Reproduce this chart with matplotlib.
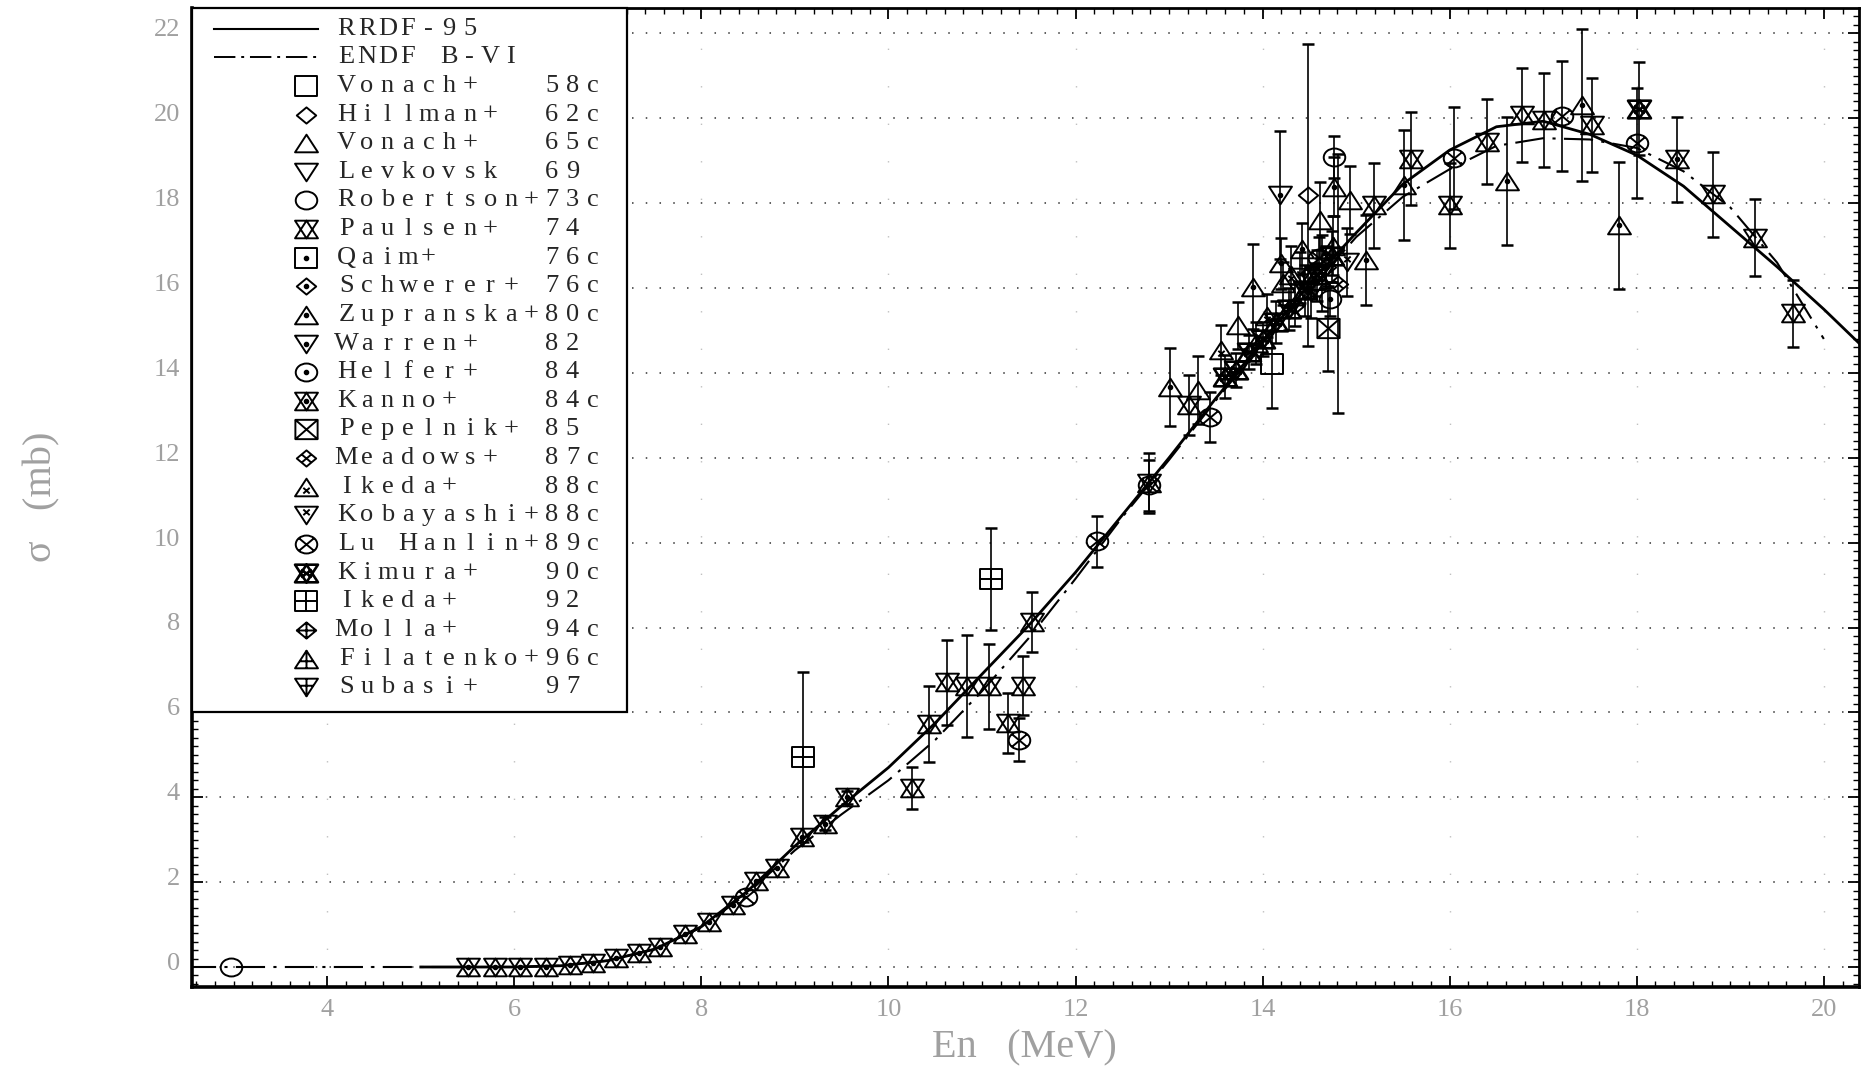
import numpy as np
import matplotlib
matplotlib.use('Agg')
import matplotlib.pyplot as plt
from matplotlib.path import Path
from matplotlib.patches import Rectangle
from matplotlib.ticker import MultipleLocator
from matplotlib.transforms import ScaledTranslation

# evaluated curves
rrdf_e = [5.0, 5.5, 6.0, 6.5, 7.0, 7.5, 8.0, 8.5, 9.0, 9.5, 10.0, 10.5, 11.0, 11.5, 12.0, 12.5,
          13.0, 13.5, 14.0, 14.5, 15.0, 15.5, 16.0, 16.5, 17.0, 17.5, 18.0, 18.5, 19.0, 19.5, 20.0, 20.4]
rrdf_s = [0.0, 0.0, 0.0, 0.03, 0.15, 0.42, 0.95, 1.8, 2.85, 3.8, 4.7, 5.75, 6.9, 8.05, 9.3, 10.65,
          12.0, 13.4, 14.75, 16.1, 17.3, 18.45, 19.25, 19.8, 19.93, 19.62, 19.13, 18.4, 17.45, 16.5, 15.5, 14.65]

endf_e = [2.5, 5.0, 5.5, 6.0, 6.5, 7.0, 7.5, 8.0, 8.5, 9.0, 9.5, 10.0, 10.5, 11.0, 11.5, 12.0,
          12.5, 13.0, 13.5, 14.0, 14.5, 15.0, 15.5, 16.0, 16.5, 17.0, 17.5, 18.0, 18.5, 19.0, 19.5, 20.0]
endf_s = [0.0, 0.0, 0.0, 0.0, 0.03, 0.15, 0.42, 0.93, 1.75, 2.75, 3.6, 4.4, 5.35, 6.5, 7.75, 9.15,
          10.6, 11.95, 13.35, 14.7, 15.95, 17.2, 18.15, 18.8, 19.35, 19.53, 19.5, 19.3, 18.75, 17.9, 16.6, 14.8]

# experimental data: En (MeV), sigma (mb), error (mb)
vonach58_e = [14.10]
vonach58_s = [14.22]
vonach58_d = [1.05]

hillman62_e = [14.49]
hillman62_s = [18.19]
hillman62_d = [3.55]

vonach65_e = [13.31, 13.74, 14.22, 14.61, 14.93]
vonach65_s = [13.59, 15.12, 16.11, 17.6, 18.07]
vonach65_d = [0.8, 0.55, 0.5, 0.9, 0.8]

levkovsk69_e = [14.64]
levkovsk69_s = [16.35]
levkovsk69_d = [0.9]

robertson73_e = [2.97, 14.76]
robertson73_s = [0.0, 19.09]
robertson73_d = [0.0, 0.5]

paulsen74_e = [10.25, 10.43, 10.63, 10.84, 11.07, 11.28, 11.44, 11.53, 13.21, 15.19,
               15.59, 16.00, 16.40, 16.77, 17.01, 17.52, 18.82, 19.26, 19.67]
paulsen74_s = [4.22, 5.73, 6.71, 6.62, 6.62, 5.75, 6.63, 8.13, 13.24, 17.95,
               19.05, 17.95, 19.45, 20.08, 19.96, 19.84, 18.21, 17.19, 15.40]
paulsen74_d = [0.5, 0.9, 1.0, 1.2, 1.0, 0.7, 0.7, 0.7, 0.7, 1.0,
               1.1, 1.0, 1.0, 1.1, 1.1, 1.1, 1.0, 0.9, 0.8]

qaim76_e = [14.56]
qaim76_s = [16.2]
qaim76_d = [0.4]

schwerer76_e = [14.68]
schwerer76_s = [16.5]
schwerer76_d = [0.5]

zupranska80_e = [13.01, 13.90, 14.20, 14.42, 14.76, 15.11, 15.51, 16.61, 17.41, 17.81]
zupranska80_s = [13.67, 16.03, 16.58, 16.93, 18.39, 16.66, 18.43, 18.52, 20.31, 17.48]
zupranska80_d = [0.92, 1.0, 0.6, 0.6, 0.7, 1.06, 1.3, 1.5, 1.8, 1.5]

warren82_e = [14.19]
warren82_s = [18.19]
warren82_d = [1.5]

helfer84_e = [14.72]
helfer84_s = [15.75]
helfer84_d = [0.4]

kanno84_e = [5.50, 5.79, 6.06, 6.34, 6.60, 6.84, 7.09, 7.33, 7.56, 7.82, 8.08, 8.34,
             8.58, 8.81, 9.08, 9.32, 9.56, 12.79, 18.43]
kanno84_s = [0.0, 0.0, 0.0, 0.01, 0.04, 0.10, 0.21, 0.32, 0.46, 0.77, 1.05, 1.47,
             2.03, 2.34, 3.06, 3.38, 4.0, 11.41, 19.03]
kanno84_d = [0, 0, 0, 0, 0, 0, 0, 0, 0, 0, 0, 0,
             0, 0, 0, 0.15, 0.15, 0.7, 1.0]

pepelnik85_e = [14.70]
pepelnik85_s = [15.05]
pepelnik85_d = [1.0]

meadows87_e = [14.81]
meadows87_s = [16.1]
meadows87_d = [3.05]

ikeda88_e = [13.56, 14.05, 14.30]
ikeda88_s = [14.54, 15.35, 16.3]
ikeda88_d = [0.6, 0.5, 0.7]

kobayashi88_e = [14.40, 14.90]
kobayashi88_s = [16.25, 16.62]
kobayashi88_d = [0.6, 0.8]

luhanlin89_e = [8.48, 11.40, 12.23, 12.79, 13.44, 14.60, 16.05, 17.20, 18.00]
luhanlin89_s = [1.64, 5.36, 10.03, 11.35, 12.96, 16.7, 19.06, 20.05, 19.41]
luhanlin89_d = [0.0, 0.5, 0.6, 0.6, 0.6, 0.5, 1.2, 1.3, 1.3]

kimura90_e = [13.60, 13.72, 13.85, 14.00, 14.14, 14.28, 14.45, 14.58, 14.74, 18.02]
kimura90_s = [13.91, 14.07, 14.5, 14.8, 15.2, 15.5, 15.95, 16.3, 16.75, 20.23]
kimura90_d = [0.5, 0.4, 0.4, 0.4, 0.5, 0.5, 0.6, 0.6, 0.6, 1.1]

ikeda92_e = [9.09, 11.10]
ikeda92_s = [4.94, 9.14]
ikeda92_d = [2.0, 1.2]

molla94_e = [14.35]
molla94_s = [15.6]
molla94_d = [0.5]

filatenko96_e = [13.93, 14.75]
filatenko96_s = [14.7, 17.0]
filatenko96_d = [0.5, 0.7]

subasi97_e = [14.52]
subasi97_s = [15.9]
subasi97_d = [0.6]

experiments = [
    ('Vonach+   58c', vonach58_e, vonach58_s, vonach58_d, 's', None),
    ('Hillman+  62c', hillman62_e, hillman62_s, hillman62_d, 'D', None),
    ('Vonach+   65c', vonach65_e, vonach65_s, vonach65_d, '^', None),
    ('Levkovsk  69', levkovsk69_e, levkovsk69_s, levkovsk69_d, 'v', None),
    ('Robertson+73c', robertson73_e, robertson73_s, robertson73_d, 'o', None),
    ('Paulsen+  74', paulsen74_e, paulsen74_s, paulsen74_d, 'hg', None),
    ('Qaim+     76c', qaim76_e, qaim76_s, qaim76_d, 's', 'dot'),
    ('Schwerer+ 76c', schwerer76_e, schwerer76_s, schwerer76_d, 'D', 'dot'),
    ('Zupranska+80c', zupranska80_e, zupranska80_s, zupranska80_d, '^', 'dot'),
    ('Warren+   82', warren82_e, warren82_s, warren82_d, 'v', 'dot'),
    ('Helfer+   84', helfer84_e, helfer84_s, helfer84_d, 'o', 'dot'),
    ('Kanno+    84c', kanno84_e, kanno84_s, kanno84_d, 'hg', 'dot'),
    ('Pepelnik+ 85', pepelnik85_e, pepelnik85_s, pepelnik85_d, 's', 'x'),
    ('Meadows+  87c', meadows87_e, meadows87_s, meadows87_d, 'D', 'x'),
    ('Ikeda+    88c', ikeda88_e, ikeda88_s, ikeda88_d, '^', 'x'),
    ('Kobayashi+88c', kobayashi88_e, kobayashi88_s, kobayashi88_d, 'v', 'x'),
    ('Lu Hanlin+89c', luhanlin89_e, luhanlin89_s, luhanlin89_d, 'o', 'x'),
    ('Kimura+   90c', kimura90_e, kimura90_s, kimura90_d, 'hg', 'x'),
    ('Ikeda+    92', ikeda92_e, ikeda92_s, ikeda92_d, 's', '+'),
    ('Molla+    94c', molla94_e, molla94_s, molla94_d, 'D', '+'),
    ('Filatenko+96c', filatenko96_e, filatenko96_s, filatenko96_d, '^', '+'),
    ('Subasi+   97', subasi97_e, subasi97_s, subasi97_d, 'v', '+'),
]

SIZE = {'s': 16, 'D': 14, '^': 16.5, 'v': 16.5, 'hg': 16.5, 'o': 15.5}


def make_symbol(shape, inner):
    # build the open symbol (plus inner strokes) as one path, a bit wider than tall
    verts, codes = [], []

    def poly(pts):
        verts.extend(pts + [pts[0]])
        codes.extend([Path.MOVETO] + [Path.LINETO] * (len(pts) - 1) + [Path.CLOSEPOLY])

    def seg(p, q):
        verts.extend([p, q])
        codes.extend([Path.MOVETO, Path.LINETO])

    w, h = 0.65, 0.5
    if shape == 's':
        w = 0.575
        poly([(-w, -h), (w, -h), (w, h), (-w, h)])
    elif shape == 'D':
        w = 0.6
        poly([(0, h), (w, 0), (0, -h), (-w, 0)])
    elif shape == 'o':
        w = 0.6
        c = Path.unit_circle()
        verts.extend([(x * w, y * h) for x, y in c.vertices])
        codes.extend(list(c.codes))
    if shape in ('^', 'hg'):
        poly([(0, h), (w, -h), (-w, -h)])
    if shape in ('v', 'hg'):
        poly([(0, -h), (w, h), (-w, h)])

    if inner == 'x':
        cx, cy, a, b = 0, 0, 0.3, 0.22
        if shape == 's':
            a, b = w, h
        elif shape == 'o':
            a, b = 0.707 * w, 0.707 * h
        elif shape == 'D':
            a, b = w / 2, h / 2
        elif shape == '^':
            cy, a, b = -0.18, 0.18, 0.16
        elif shape == 'v':
            cy, a, b = 0.18, 0.18, 0.16
        seg((cx - a, cy - b), (cx + a, cy + b))
        seg((cx - a, cy + b), (cx + a, cy - b))
    elif inner == '+':
        if shape in ('s', 'D'):
            seg((-w, 0), (w, 0))
            seg((0, -h), (0, h))
        elif shape == '^':
            yc = -0.1
            half = w * (h - yc) / (2 * h)
            seg((0, h), (0, -h))
            seg((-half, yc), (half, yc))
        elif shape == 'v':
            yc = 0.1
            half = w * (h + yc) / (2 * h)
            seg((0, -h), (0, h))
            seg((-half, yc), (half, yc))
    return Path(np.array(verts, dtype=float), codes)


def draw_symbol(ax, x, y, shape, inner, zorder=4, **kw):
    mew = 1.9 if (shape == 'hg' and inner == 'x') else 1.4
    ax.plot(x, y, linestyle='none', marker=make_symbol(shape, inner), ms=SIZE[shape],
            mfc='none', mec='k', mew=mew, zorder=zorder, **kw)
    if inner == 'dot':
        ax.plot(x, y, linestyle='none', marker='o', ms=3.0, color='k', zorder=zorder, **kw)


plt.rcParams['font.family'] = ['Liberation Serif', 'DejaVu Serif']

fig = plt.figure(figsize=(18.63, 10.71), dpi=100)
ax = fig.add_axes([0.1033, 0.0788, 0.8948, 0.9134])

ax.plot(rrdf_e, rrdf_s, color='k', lw=2.0, zorder=3)
ax.plot(endf_e, endf_s, color='k', lw=1.5, linestyle=(0, (14, 4, 1.5, 4)), zorder=3)

for label, e, s, d, shape, inner in experiments:
    e, s, d = np.array(e), np.array(s), np.array(d)
    m = d > 0
    if m.any():
        ax.errorbar(e[m], s[m], yerr=d[m], fmt='none', ecolor='k', elinewidth=1.2,
                    capsize=4.5, capthick=1.8, zorder=2)
    draw_symbol(ax, e, s, shape, inner)

ax.set_xlim(2.559, 20.381)
ax.set_ylim(-0.462, 22.59)
ax.xaxis.set_major_locator(MultipleLocator(2))
ax.yaxis.set_major_locator(MultipleLocator(2))
ax.xaxis.set_minor_locator(MultipleLocator(0.2))
ax.yaxis.set_minor_locator(MultipleLocator(0.2))
ax.tick_params(which='major', direction='in', length=8, width=1.3, top=True, right=True,
               labelsize=19, labelcolor='#a0a0a0', pad=9)
ax.tick_params(which='minor', direction='in', length=4, width=1.0, top=True, right=True)
for lbl in ax.get_yticklabels():
    lbl.set_transform(lbl.get_transform() + ScaledTranslation(0, 4 / 72, fig.dpi_scale_trans))

ax.set_axisbelow(True)
ax.grid(axis='y', which='major', color='#333333', lw=1.1, linestyle=(0, (1, 8)))
ax.grid(axis='x', which='major', color='#c0c0c0', lw=1.0, linestyle=(0, (1, 26)))
for side in ['left', 'bottom']:
    ax.spines[side].set_linewidth(2.6)
for side in ['top', 'right']:
    ax.spines[side].set_linewidth(2.0)

fig.text(0.5497, 0.0211, 'En   (MeV)', ha='center', va='center', fontsize=29, color='#a0a0a0')
fig.text(0.0223, 0.536, 'σ   (mb)', ha='center', va='center', rotation=90, fontsize=29,
         color='#a0a0a0')

# legend box drawn by hand to keep the fixed-pitch look of the original
ax.add_patch(Rectangle((0, 0.2807), 0.2609, 0.7193, transform=ax.transAxes, facecolor='white',
                       edgecolor='k', lw=1.6, zorder=8, clip_on=False))
y0, dy = 0.9793, 0.02927
pitch = 0.01233
x_txt = 0.0923
rows = [('RRDF-95', 'line', None), ('ENDF B-VI', 'dash', None)] + \
       [(lab, shp, inn) for lab, _, _, _, shp, inn in experiments]
for i, (label, shape, inner) in enumerate(rows):
    y = y0 - i * dy
    if shape == 'line':
        ax.plot([0.0128, 0.0756], [y, y], color='k', lw=1.5, transform=ax.transAxes,
                zorder=9, clip_on=False)
    elif shape == 'dash':
        ax.plot([0.0128, 0.0756], [y, y], color='k', lw=1.4, linestyle=(0, (11, 3, 1.5, 3)),
                transform=ax.transAxes, zorder=9, clip_on=False)
    else:
        draw_symbol(ax, [0.0684], [y], shape, inner, zorder=9, transform=ax.transAxes,
                    clip_on=False)
    for j, ch in enumerate(label):
        if ch != ' ':
            ax.text(x_txt + j * pitch, y, ch, transform=ax.transAxes, ha='center',
                    va='center', fontsize=19, color='#262626', zorder=9)

fig.savefig('out.png', dpi=100)
